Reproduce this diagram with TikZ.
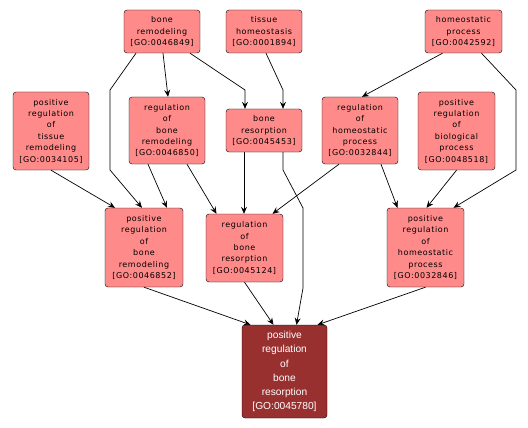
\documentclass[tikz,border=0pt]{standalone}
\usepackage{fontspec}
\newfontfamily\gofont[LetterSpace=7]{DejaVu Sans}
\newfontfamily\leaffont{Liberation Sans}
\usetikzlibrary{arrows.meta}

\definecolor{termpink}{RGB}{255,138,138}
\definecolor{termred}{RGB}{153,48,48}

\tikzset{
  term/.style={draw=black, fill=termpink, rounded corners=3pt, align=center,
    inner sep=1pt, font=\gofont\fontsize{8}{11.4}\selectfont},
  leaf/.style={term, fill=termred, text=white,
    font=\leaffont\fontsize{10.2}{14.2}\selectfont},
  edge/.style={draw, line width=0.7pt, -{Stealth[length=7pt,width=6pt,inset=2.5pt]}}
}

\begin{document}
\begin{tikzpicture}[x=1pt, y=-1pt]
			\useasboundingbox (0,0) rectangle (528,428);
			% top row
			\node[term, minimum width=76pt, minimum height=43pt] (br) at (162,31.5) {bone\\remodeling\\{[GO:0046849]}};
			\node[term, minimum width=76pt, minimum height=43pt] (th) at (264,31.5) {tissue\\homeostasis\\{[GO:0001894]}};
			\node[term, minimum width=77pt, minimum height=43pt] (hp) at (463.5,31.5) {homeostatic\\process\\{[GO:0042592]}};
			
			% second row
			\node[term, minimum width=76pt, minimum height=78pt] (prtr) at (51,131) {positive\\regulation\\of\\tissue\\remodeling\\{[GO:0034105]}};
			\node[term, minimum width=76pt, minimum height=67pt] (rbrm) at (167,130.5) {regulation\\of\\bone\\remodeling\\{[GO:0046850]}};
			\node[term, minimum width=76pt, minimum height=43pt] (bres) at (264,130.5) {bone\\resorption\\{[GO:0045453]}};
			\node[term, minimum width=76pt, minimum height=67pt] (rhp) at (360,130.5) {regulation\\of\\homeostatic\\process\\{[GO:0032844]}};
			\node[term, minimum width=77pt, minimum height=78pt] (prbp) at (456.5,131) {positive\\regulation\\of\\biological\\process\\{[GO:0048518]}};
			
			% third row
			\node[term, minimum width=78pt, minimum height=79pt] (prbrm) at (144,247.5) {positive\\regulation\\of\\bone\\remodeling\\{[GO:0046852]}};
			\node[term, minimum width=77pt, minimum height=68pt] (rbres) at (244.5,248) {regulation\\of\\bone\\resorption\\{[GO:0045124]}};
			\node[term, minimum width=77pt, minimum height=79pt] (prhp) at (425.5,247.5) {positive\\regulation\\of\\homeostatic\\process\\{[GO:0032846]}};
			
			% bottom
			\node[leaf, minimum width=85pt, minimum height=93pt] (prbres) at (284.5,371.5) {positive\\regulation\\of\\bone\\resorption\\{[GO:0045780]}};
			
			\path[edge]
			([xshift=-26pt]br.south) -- (110,90) -- (110,170) -- ([xshift=-2pt]prbrm.north);
			\path[edge] ([xshift=1pt]br.south) -- ([xshift=1pt]rbrm.north);
			\path[edge] ([xshift=28pt]br.south) -- (245,90) -- ([xshift=-19pt]bres.north);
			\path[edge] ([xshift=2pt]th.south) -- (283,90) -- ([xshift=19pt]bres.north);
			\path[edge] ([xshift=-21pt]hp.south) -- ([xshift=2pt]rhp.north);
			\path[edge] ([xshift=18pt]hp.south) -- (516,90) -- (516,170) -- ([xshift=28pt]prhp.north);
			\path[edge] (prtr.south) -- ([xshift=-29pt]prbrm.north);
			\path[edge] ([xshift=-19pt]rbrm.south) -- ([xshift=23pt]prbrm.north);
			\path[edge] ([xshift=20pt]rbrm.south) -- ([xshift=-28pt]rbres.north);
			\path[edge] ([xshift=-20pt]bres.south) -- ([xshift=-0.5pt]rbres.north);
			\path[edge] ([xshift=19pt]bres.south) -- (283,170) -- (303,208) -- (303,288) -- ([xshift=12pt]prbres.north);
			\path[edge] ([xshift=-21pt]rhp.south) -- ([xshift=28pt]rbres.north);
			\path[edge] ([xshift=21pt]rhp.south) -- ([xshift=-28pt]prhp.north);
			\path[edge] (prbp.south) -- ([xshift=1pt]prhp.north);
			\path[edge] (prbrm.south) -- ([xshift=-34pt]prbres.north);
			\path[edge] (rbres.south) -- ([xshift=-11pt]prbres.north);
			\path[edge] (prhp.south) -- ([xshift=33pt]prbres.north);
		\end{tikzpicture}
\end{document}
